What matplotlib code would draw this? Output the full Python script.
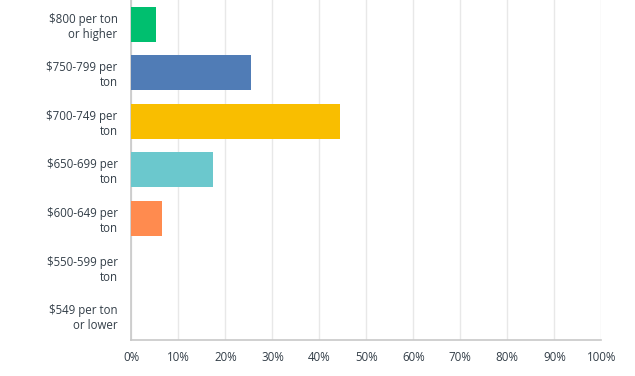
import matplotlib
matplotlib.use("Agg")
from matplotlib import pyplot as plt
from matplotlib.ticker import FuncFormatter

categorias = ["$800 per ton\nor higher", "$750-799 per\nton", "$700-749 per\nton",
              "$650-699 per\nton", "$600-649 per\nton", "$550-599 per\nton",
              "$549 per ton\nor lower"]
valores = [5.2, 25.4, 44.4, 17.3, 6.6, 0.0, 0.0]
cores = ["#00bf6f", "#507cb6", "#f9be00", "#6bc8cd", "#ff8b4f", "#999999", "#999999"]

plt.rcParams['font.family'] = ['Open Sans', 'DejaVu Sans']

fig = plt.figure(figsize=(6.35, 3.76), dpi=100)
ax = fig.add_axes([0.207, 0.096, 0.740, 0.904])

pos = list(range(len(categorias)))
ax.barh(pos, valores, height=0.72, color=cores, zorder=3)
ax.set_ylim(len(categorias) - 0.5, -0.5)
ax.set_xlim(0, 100)
ax.set_xticks(range(0, 101, 10))
ax.xaxis.set_major_formatter(FuncFormatter(lambda v, p: '%d%%' % v))
ax.set_yticks(pos)
ax.set_yticklabels(categorias, fontsize=8.3, color='#333e48', linespacing=1.2)
ax.tick_params(axis='x', labelsize=8.3, colors='#333e48', length=0, pad=8)
ax.tick_params(axis='y', length=0, pad=10)
ax.grid(axis='x', color='#e8e8e8', linewidth=1, zorder=0)

for s in ['top', 'right']:
    ax.spines[s].set_visible(False)
for s in ['left', 'bottom']:
    ax.spines[s].set_color('#c8c8c8')
    ax.spines[s].set_linewidth(1.2)

fig.savefig('out.png', dpi=100)
